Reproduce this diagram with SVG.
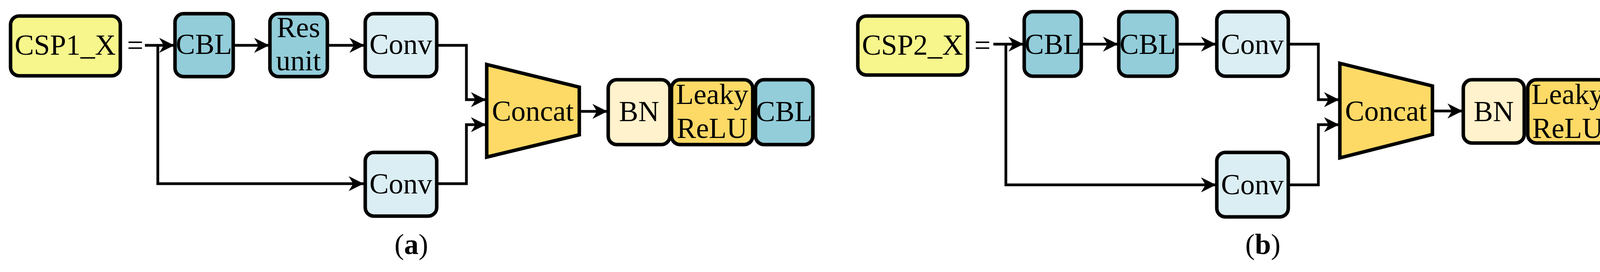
<svg xmlns="http://www.w3.org/2000/svg" width="4313" height="696" viewBox="0 0 4313 696">
<style>
.b{stroke:#000;stroke-width:9}
.y{fill:#F7F68C}.c{fill:#93CDDA}.v{fill:#DBEEF4}.o{fill:#FDD966}.n{fill:#FFF2CC}
text{font-family:"Liberation Serif","Times New Roman",serif;font-size:74px;fill:#000;text-anchor:middle}
.l{fill:none;stroke:#000;stroke-width:7}
</style>
<defs>
<marker id="a" viewBox="0 0 10 10" refX="10" refY="5" markerWidth="5.5" markerHeight="5.5" markerUnits="strokeWidth" orient="auto"><path d="M0,0L10,5L0,10L3,5z" fill="#000"/></marker>
</defs>
<g id="connectors">
<path class="l" d="M371,116H446" marker-end="url(#a)"/>
<path class="l" d="M404,116V470H931" marker-end="url(#a)"/>
<path class="l" d="M597,116H689" marker-end="url(#a)"/>
<path class="l" d="M838,116H933" marker-end="url(#a)"/>
<path class="l" d="M1118,116H1194V255H1244" marker-end="url(#a)"/>
<path class="l" d="M1118,470H1194V319H1244" marker-end="url(#a)"/>
<path class="l" d="M1483,285H1555" marker-end="url(#a)"/>
<path class="l" d="M2543,113H2620" marker-end="url(#a)"/>
<path class="l" d="M2575,113V473H3113" marker-end="url(#a)"/>
<path class="l" d="M2768,113H2862" marker-end="url(#a)"/>
<path class="l" d="M3013,113H3113" marker-end="url(#a)"/>
<path class="l" d="M3298,113H3375V255H3428" marker-end="url(#a)"/>
<path class="l" d="M3298,473H3375V319H3428" marker-end="url(#a)"/>
<path class="l" d="M3667,284H3744" marker-end="url(#a)"/>
</g>
<g id="csp1"><rect class="b y" x="27" y="41" width="281" height="153" rx="22"/><text x="167" y="140">CSP1_X</text></g>
<text x="346" y="140">=</text>
<g id="cbl1a"><rect class="b c" x="448" y="35" width="149" height="161" rx="22"/><text x="522" y="138">CBL</text></g>
<g id="resa"><rect class="b c" x="691" y="35" width="147" height="161" rx="22"/><text x="764" y="95">Res</text><text x="764" y="180">unit</text></g>
<g id="conv1a"><rect class="b v" x="935" y="35" width="183" height="161" rx="22"/><text x="1026" y="138">Conv</text></g>
<g id="conv2a"><rect class="b v" x="935" y="390" width="183" height="163" rx="22"/><text x="1026" y="495">Conv</text></g>
<g id="concata"><path class="b o" d="M1246,165L1483,223V345L1246,402Z"/><text x="1364" y="309">Concat</text></g>
<g id="bna"><rect class="b n" x="1557" y="204" width="158" height="166" rx="22"/><text x="1636" y="310">BN</text></g>
<g id="leakya"><rect class="b o" x="1719" y="204" width="208" height="166" rx="22"/><text x="1823" y="266">Leaky</text><text x="1823" y="353">ReLU</text></g>
<g id="cbl2a"><rect class="b c" x="1934" y="204" width="147" height="166" rx="22"/><text x="2007" y="310">CBL</text></g>
<text x="1053" y="650">(<tspan font-weight="bold">a</tspan>)</text>
<g id="csp2"><rect class="b y" x="2196" y="41" width="281" height="151" rx="22"/><text x="2336" y="140">CSP2_X</text></g>
<text x="2515" y="140">=</text>
<g id="cbl1b"><rect class="b c" x="2622" y="30" width="146" height="165" rx="22"/><text x="2695" y="138">CBL</text></g>
<g id="cbl2b"><rect class="b c" x="2864" y="30" width="149" height="165" rx="22"/><text x="2938" y="138">CBL</text></g>
<g id="conv1b"><rect class="b v" x="3115" y="30" width="183" height="165" rx="22"/><text x="3206" y="138">Conv</text></g>
<g id="conv2b"><rect class="b v" x="3115" y="390" width="183" height="165" rx="22"/><text x="3206" y="497">Conv</text></g>
<g id="concatb"><path class="b o" d="M3430,162L3667,220V344L3430,404Z"/><text x="3548" y="309">Concat</text></g>
<g id="bnb"><rect class="b n" x="3746" y="204" width="156" height="162" rx="22"/><text x="3824" y="310">BN</text></g>
<g id="leakyb"><rect class="b o" x="3911" y="204" width="204" height="162" rx="22"/><text x="4013" y="266">Leaky</text><text x="4013" y="353">ReLU</text></g>
<g id="cbl3b"><rect class="b c" x="4125" y="204" width="146" height="162" rx="22"/><text x="4198" y="310">CBL</text></g>
<text x="3233" y="650">(<tspan font-weight="bold">b</tspan>)</text>
</svg>
